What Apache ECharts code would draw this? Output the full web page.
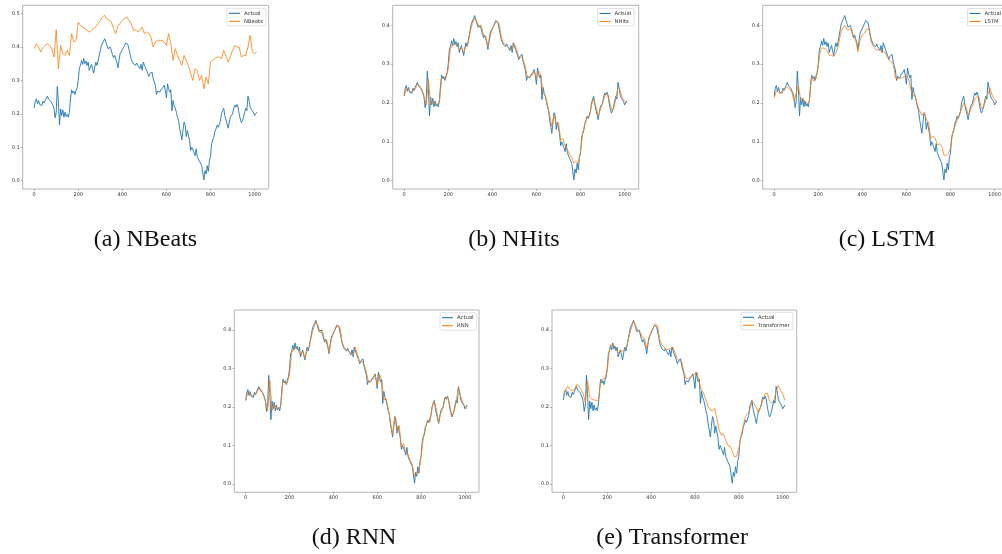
<!DOCTYPE html>
<html>
<head>
<meta charset="utf-8">
<script src="https://cdn.jsdelivr.net/npm/echarts@6/dist/echarts.min.js"></script>
<style>
html,body{margin:0;padding:0;background:#fff;overflow:hidden;width:1002px;height:554px;}
#c{width:1012px;height:554px;}
</style>
</head>
<body>
<div id="c"></div>
<script>
// ---- data ----
const modelNames = ['NBeats', 'NHits', 'LSTM', 'RNN', 'Transformer'];
const captions = ['(a) NBeats', '(b) NHits', '(c) LSTM', '(d) RNN', '(e) Transformer'];
const xTickLabels = [0, 200, 400, 600, 800, 1000];
const yTickLabelsA = [0, 0.1, 0.2, 0.3, 0.4, 0.5];
const yTickLabels = [0, 0.1, 0.2, 0.3, 0.4];
const ACTUAL_STEP = 5;
const PRED_STEP = 10;

// Actual, every 5 time steps (0..1010)
const actual = [
0.218,0.238,0.245,0.230,0.240,0.228,0.232,0.225,0.238,0.232,
0.240,0.236,0.253,0.244,0.248,0.238,0.236,0.226,0.215,0.188,
0.205,0.282,0.235,0.167,0.215,0.195,0.212,0.190,0.205,0.192,
0.198,0.190,0.208,0.245,0.272,0.262,0.268,0.258,0.270,0.278,
0.300,0.338,0.345,0.360,0.348,0.366,0.350,0.358,0.345,0.355,
0.330,0.340,0.348,0.335,0.322,0.340,0.355,0.345,0.358,0.362,
0.390,0.405,0.400,0.418,0.425,0.430,0.405,0.395,0.390,0.400,
0.395,0.378,0.368,0.375,0.372,0.355,0.338,0.360,0.380,0.385,
0.392,0.398,0.405,0.412,0.416,0.408,0.403,0.380,0.364,0.360,
0.350,0.355,0.345,0.352,0.345,0.340,0.335,0.348,0.330,0.355,
0.350,0.338,0.335,0.322,0.312,0.320,0.318,0.325,0.305,0.300,
0.285,0.258,0.268,0.270,0.265,0.272,0.273,0.280,0.286,0.270,
0.248,0.290,0.275,0.265,0.272,0.209,0.240,0.225,0.217,0.205,
0.190,0.180,0.157,0.140,0.122,0.150,0.175,0.168,0.132,0.150,
0.148,0.120,0.090,0.100,0.102,0.085,0.075,0.095,0.072,0.068,
0.058,0.062,0.045,0.040,0.002,0.030,0.020,0.045,0.028,0.060,
0.071,0.110,0.122,0.130,0.148,0.155,0.166,0.160,0.157,0.178,
0.200,0.210,0.217,0.195,0.190,0.170,0.157,0.175,0.190,0.195,
0.200,0.215,0.226,0.220,0.228,0.220,0.200,0.185,0.174,0.180,
0.190,0.205,0.217,0.210,0.253,0.240,0.220,0.213,0.208,0.204,
0.195,0.190,0.205
];

// Predictions, every 10 time steps (0..1010)
const nbeats = [
0.395,0.410,0.400,0.385,0.398,0.405,0.410,0.405,0.395,0.370,
0.452,0.335,0.405,0.380,0.375,0.390,0.375,0.440,0.415,0.420,
0.475,0.465,0.460,0.455,0.450,0.445,0.450,0.455,0.462,0.470,
0.480,0.490,0.495,0.485,0.480,0.475,0.455,0.440,0.465,0.470,
0.480,0.485,0.490,0.480,0.470,0.450,0.452,0.445,0.450,0.460,
0.440,0.445,0.440,0.430,0.400,0.415,0.420,0.420,0.420,0.415,
0.405,0.440,0.410,0.360,0.395,0.375,0.360,0.345,0.375,0.360,
0.345,0.320,0.300,0.335,0.330,0.300,0.315,0.275,0.310,0.290,
0.355,0.360,0.365,0.370,0.370,0.365,0.390,0.375,0.355,0.370,
0.390,0.405,0.400,0.400,0.370,0.375,0.375,0.400,0.435,0.385,
0.380,0.385
];
const nhits = [
0.218,0.238,0.235,0.228,0.232,0.236,0.248,0.245,0.235,0.218,
0.195,0.262,0.195,0.205,0.198,0.196,0.200,0.265,0.262,0.265,
0.288,0.340,0.350,0.352,0.350,0.338,0.342,0.330,0.345,0.352,
0.385,0.405,0.418,0.410,0.395,0.398,0.375,0.372,0.345,0.372,
0.390,0.402,0.410,0.405,0.372,0.355,0.350,0.345,0.340,0.338,
0.352,0.338,0.318,0.318,0.312,0.292,0.265,0.268,0.272,0.282,
0.262,0.282,0.272,0.225,0.220,0.198,0.168,0.140,0.170,0.145,
0.150,0.105,0.108,0.090,0.080,0.068,0.060,0.045,0.050,0.045,
0.075,0.122,0.145,0.162,0.165,0.195,0.210,0.190,0.168,0.182,
0.200,0.220,0.225,0.208,0.182,0.185,0.210,0.240,0.232,0.212,
0.205,0.200
];
const lstm = [
0.212,0.232,0.226,0.225,0.232,0.238,0.240,0.236,0.228,0.205,
0.225,0.245,0.208,0.210,0.205,0.198,0.205,0.268,0.256,0.262,
0.295,0.338,0.342,0.340,0.335,0.323,0.322,0.320,0.328,0.345,
0.375,0.392,0.400,0.390,0.388,0.392,0.372,0.362,0.332,0.362,
0.375,0.380,0.390,0.390,0.358,0.345,0.338,0.336,0.338,0.330,
0.332,0.322,0.312,0.306,0.302,0.265,0.262,0.263,0.265,0.268,
0.270,0.262,0.235,0.220,0.215,0.195,0.180,0.168,0.175,0.160,
0.150,0.110,0.115,0.110,0.092,0.095,0.088,0.066,0.065,0.070,
0.085,0.125,0.140,0.155,0.168,0.185,0.200,0.190,0.170,0.180,
0.194,0.210,0.216,0.214,0.185,0.190,0.207,0.225,0.237,0.218,
0.210,0.200
];
const rnn = [
0.215,0.240,0.236,0.228,0.233,0.235,0.250,0.246,0.233,0.215,
0.190,0.270,0.190,0.208,0.196,0.195,0.202,0.268,0.264,0.262,
0.285,0.342,0.350,0.356,0.348,0.335,0.345,0.326,0.348,0.355,
0.385,0.405,0.420,0.412,0.392,0.398,0.372,0.374,0.340,0.375,
0.392,0.403,0.412,0.405,0.370,0.352,0.350,0.345,0.338,0.335,
0.355,0.336,0.315,0.320,0.310,0.292,0.262,0.268,0.272,0.285,
0.255,0.285,0.270,0.218,0.222,0.196,0.160,0.128,0.175,0.138,
0.152,0.095,0.105,0.080,0.078,0.062,0.050,0.020,0.030,0.032,
0.072,0.120,0.148,0.165,0.160,0.198,0.215,0.192,0.160,0.185,
0.198,0.222,0.226,0.205,0.178,0.188,0.212,0.250,0.228,0.212,
0.200,0.195
];
const transformer = [
0.230,0.245,0.254,0.245,0.242,0.245,0.258,0.255,0.245,0.235,
0.212,0.268,0.225,0.220,0.218,0.217,0.217,0.268,0.272,0.275,
0.295,0.352,0.362,0.360,0.352,0.340,0.345,0.345,0.350,0.360,
0.385,0.405,0.422,0.410,0.398,0.395,0.380,0.378,0.352,0.375,
0.395,0.405,0.416,0.410,0.372,0.360,0.355,0.348,0.350,0.352,
0.355,0.340,0.325,0.318,0.316,0.290,0.274,0.273,0.278,0.282,
0.286,0.290,0.262,0.245,0.235,0.218,0.200,0.192,0.190,0.196,
0.170,0.140,0.127,0.130,0.115,0.100,0.098,0.085,0.071,0.072,
0.092,0.125,0.150,0.175,0.182,0.192,0.215,0.208,0.198,0.185,
0.200,0.220,0.234,0.236,0.215,0.210,0.217,0.240,0.256,0.243,
0.234,0.217
];
const predictions = [nbeats, nhits, lstm, rnn, transformer];

// ---- layout / styling ----
const BLUE = '#1f77b4', ORANGE = '#ff7f0e';
const panels = [
  {left: 22.7,  top: 5.3, width: 246, height: 183.7, ymin: -0.025, ymax: 0.525, yt: yTickLabelsA, lg: [227, 8.3],   cap: [145.5, 240]},
  {left: 392.7, top: 5.3, width: 246, height: 183.7, ymin: -0.0215, ymax: 0.4515, yt: yTickLabels, lg: [597.5, 8.5], cap: [514, 240]},
  {left: 762.7, top: 5.3, width: 246, height: 183.7, ymin: -0.0215, ymax: 0.4515, yt: yTickLabels, lg: [967.5, 8.5], cap: [887, 240]},
  {left: 234.3, top: 310, width: 244.7, height: 182.3, ymin: -0.0215, ymax: 0.4515, yt: yTickLabels, lg: [440, 312.7], cap: [354, 538]},
  {left: 552,   top: 310, width: 244.7, height: 182.3, ymin: -0.0215, ymax: 0.4515, yt: yTickLabels, lg: [741, 312.3], cap: [672, 538]}
];
const XMIN = -52, XMAX = 1064;

const toPairs = (arr, step) => arr.map((v, i) => [i * step, v]);
const tickFont = {fontFamily: 'DejaVu Sans', fontSize: 5, color: '#333'};

const grid = [], xAxis = [], yAxis = [], series = [], legend = [], graphic = [];
panels.forEach((p, i) => {
  grid.push({left: p.left, top: p.top, width: p.width, height: p.height,
    show: true, borderColor: '#b4b4b4', borderWidth: 1, backgroundColor: 'transparent'});
  xAxis.push({type: 'value', gridIndex: i, min: XMIN, max: XMAX, position: 'bottom',
    axisLine: {show: false, onZero: false}, splitLine: {show: false},
    axisTick: {show: true, length: 2, lineStyle: {color: '#888', width: 0.6}, customValues: xTickLabels},
    axisLabel: Object.assign({margin: 3, customValues: xTickLabels, formatter: v => String(v)}, tickFont)});
  yAxis.push({type: 'value', gridIndex: i, min: p.ymin, max: p.ymax, position: 'left',
    axisLine: {show: false, onZero: false}, splitLine: {show: false},
    axisTick: {show: true, length: 2, lineStyle: {color: '#888', width: 0.6}, customValues: p.yt},
    axisLabel: Object.assign({margin: 3, customValues: p.yt, formatter: v => v.toFixed(1)}, tickFont)});
  series.push({name: 'Actual', type: 'line', xAxisIndex: i, yAxisIndex: i,
    data: toPairs(actual, ACTUAL_STEP), showSymbol: false, symbol: 'none',
    lineStyle: {color: BLUE, width: 0.9}, itemStyle: {color: BLUE}, emphasis: {disabled: true}, z: 2});
  series.push({name: modelNames[i], type: 'line', xAxisIndex: i, yAxisIndex: i,
    data: toPairs(predictions[i], PRED_STEP), showSymbol: false, symbol: 'none',
    lineStyle: {color: ORANGE, width: 0.9, opacity: 0.9}, itemStyle: {color: ORANGE}, emphasis: {disabled: true}, z: 3});
  legend.push({data: ['Actual', modelNames[i]], left: p.lg[0], top: p.lg[1], orient: 'vertical',
    icon: 'rect', itemWidth: 11, itemHeight: 1.1, itemGap: 3,
    padding: [2.5, 3, 2, 2], backgroundColor: '#fff', borderColor: '#d4d4d4', borderWidth: 0.7, borderRadius: 1.5,
    textStyle: {fontFamily: 'DejaVu Sans', fontSize: 5.3, color: '#333', padding: [0, 0, 0, -1]},
    selectedMode: false});
  graphic.push({type: 'text', x: p.cap[0], y: p.cap[1],
    style: {text: captions[i], fontFamily: 'Liberation Serif', fontSize: 24, fill: '#111',
      textAlign: 'center', textVerticalAlign: 'middle'}});
});

const chart = echarts.init(document.getElementById('c'), null, {renderer: 'canvas'});
chart.setOption({animation: false, backgroundColor: '#fff', grid, xAxis, yAxis, series, legend, graphic});
</script>
</body>
</html>
